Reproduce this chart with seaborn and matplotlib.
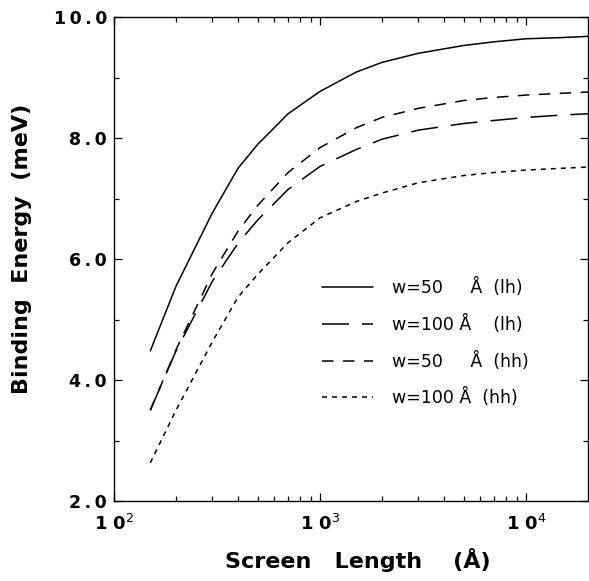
import matplotlib
matplotlib.use("Agg")
import matplotlib.pyplot as plt
from matplotlib.ticker import FixedLocator, FixedFormatter, NullFormatter
import pandas as pd
import seaborn as sns

# Screen length (Å) and binding energies (meV)
screen_length = [150, 200, 300, 400, 500, 700, 1000, 1500, 2000, 3000, 5000, 7000, 10000, 15000, 20000]
e_w50_lh = [4.48, 5.55, 6.76, 7.50, 7.90, 8.40, 8.77, 9.09, 9.25, 9.40, 9.53, 9.59, 9.64, 9.66, 9.68]
e_w100_lh = [3.50, 4.48, 5.63, 6.26, 6.65, 7.15, 7.53, 7.81, 7.98, 8.13, 8.24, 8.29, 8.34, 8.38, 8.40]
e_w50_hh = [3.50, 4.50, 5.76, 6.46, 6.89, 7.43, 7.84, 8.17, 8.34, 8.49, 8.62, 8.67, 8.71, 8.74, 8.76]
e_w100_hh = [2.63, 3.50, 4.63, 5.37, 5.75, 6.27, 6.68, 6.95, 7.09, 7.26, 7.38, 7.43, 7.47, 7.50, 7.52]

FS = "\u2007"   # figure space, width of one digit
TS = "\u2009"   # thin space
labels = ["w=50" + FS + "   Å  (lh)", "w=100 Å    (lh)", "w=50" + FS + "   Å  (hh)", "w=100 Å  (hh)"]
y_ticks = [2, 4, 6, 8, 10]
y_tick_labels = [TS.join("2.0"), TS.join("4.0"), TS.join("6.0"), TS.join("8.0"), TS.join("10.0")]
x_ticks = [1e2, 1e3, 1e4]
x_tick_labels = [r"1 0$^{2}$", r"1 0$^{3}$", r"1 0$^{4}$"]

sns.set_style("ticks")
plt.rcParams["font.family"] = ["DejaVu Sans"]
plt.rcParams["mathtext.fontset"] = "dejavusans"
plt.rcParams["lines.scale_dashes"] = False
for key in ("text.color", "axes.labelcolor", "xtick.color", "ytick.color", "axes.edgecolor"):
    plt.rcParams[key] = "black"

fig = plt.figure(figsize=(5.89, 5.81), dpi=100)
ax = fig.add_axes([114 / 589, 1 - 501 / 581, 474 / 589, 484 / 581])

series = [e_w50_lh, e_w100_lh, e_w50_hh, e_w100_hh]
styles = ["-", (0, (19.4, 9.4)), (0, (8.3, 6.8)), (0, (3.6, 3.6))]
for vals, lab, ls in zip(series, labels, styles):
    df = pd.DataFrame({"L": screen_length, "E": vals})
    sns.lineplot(data=df, x="L", y="E", ax=ax, color="black", lw=1.1,
                 linestyle=ls, label=lab)

ax.set_xscale("log")
ax.set_xlim(100, 2e4)
ax.set_ylim(2, 10)

ax.yaxis.set_major_locator(FixedLocator(y_ticks))
ax.yaxis.set_major_formatter(FixedFormatter(y_tick_labels))
ax.yaxis.set_minor_locator(FixedLocator([3, 5, 7, 9]))
ax.xaxis.set_major_locator(FixedLocator(x_ticks))
ax.xaxis.set_major_formatter(FixedFormatter(x_tick_labels))
minor_x = [m * 10 ** k for k in (2, 3, 4) for m in range(2, 10) if m * 10 ** k < 2e4]
ax.xaxis.set_minor_locator(FixedLocator(minor_x))
ax.xaxis.set_minor_formatter(NullFormatter())

ax.tick_params(which="both", direction="in", top=True, right=True, colors="black", width=0.9)
ax.tick_params(which="major", length=6)
ax.tick_params(which="minor", length=3.5)
ax.tick_params(axis="y", which="major", labelsize=12.5, pad=5)
ax.tick_params(axis="x", which="major", labelsize=13, pad=9)
for t in ax.get_yticklabels() + ax.get_xticklabels():
    t.set_fontweight("bold")

for s in ax.spines.values():
    s.set_linewidth(1.0)
    s.set_color("black")
    s.set_visible(True)

ax.set_xlabel("Screen   Length    (Å)", fontsize=16, fontweight="bold", color="black")
ax.set_ylabel("Binding  Energy  (meV)", fontsize=16, fontweight="bold", color="black")
ax.xaxis.set_label_coords(0.515, -0.097)
ax.yaxis.set_label_coords(-0.172, 0.52)

leg = ax.legend(loc="upper left", bbox_to_anchor=((322 - 114) / 474, (501 - 278) / 484),
                frameon=False, fontsize=12.5, handlelength=2.93, handletextpad=1.1,
                labelspacing=1.02, borderpad=0, borderaxespad=0, labelcolor="black")

fig.savefig("out.png", dpi=100)
